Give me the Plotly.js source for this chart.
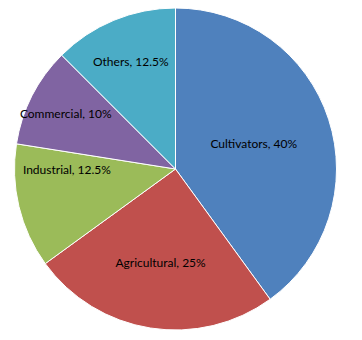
<!DOCTYPE html>
<html><head><meta charset="utf-8">
<script src="https://cdn.plot.ly/plotly-3.0.1.min.js"></script>
<style>html,body{margin:0;padding:0;background:#fff;}#chart{width:362px;height:340px;}</style>
</head><body><div id="chart"></div>
<script>
const categories = ["Cultivators", "Agricultural", "Industrial", "Commercial", "Others"];
const shares = [40, 25, 12.5, 10, 12.5];
const colors = ["#4F81BD", "#C0504D", "#9BBB59", "#8064A2", "#4BACC6"];

const trace = {
  type: "pie",
  labels: categories,
  values: shares,
  sort: false,
  direction: "clockwise",
  rotation: 0,
  marker: { colors: colors, line: { color: "#ffffff", width: 1 } },
  texttemplate: "%{label}, %{value}%",
  textposition: "inside",
  insidetextorientation: "horizontal",
  textfont: { family: "Lato, 'Open Sans', sans-serif", size: 12, color: "#000000" },
  hoverinfo: "none",
  domain: { x: [14/362, 337/362], y: [1 - 330/340, 1 - 8/340] }
};

Plotly.newPlot("chart", [trace], {
  width: 362, height: 340,
  margin: { l: 0, r: 0, t: 0, b: 0 },
  showlegend: false,
  paper_bgcolor: "#ffffff",
  uniformtext: { mode: "show", minsize: 12 }
}, { displayModeBar: false, staticPlot: true });
</script></body></html>
